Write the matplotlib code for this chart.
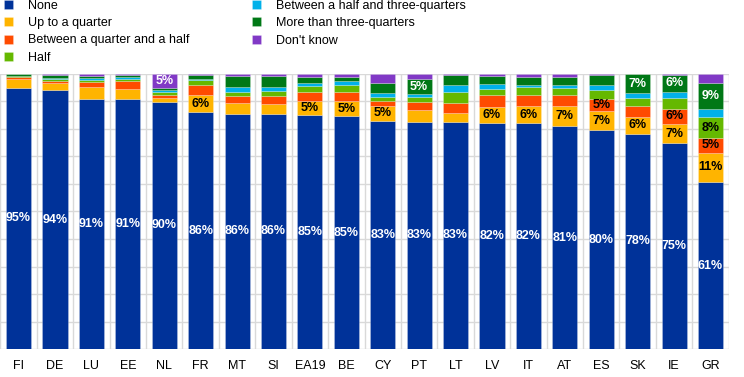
import numpy as np
import matplotlib
matplotlib.use('Agg')
import matplotlib.pyplot as plt

plt.rcParams['font.family'] = ['Liberation Sans', 'DejaVu Sans']

countries = ['FI', 'DE', 'LU', 'EE', 'NL', 'FR', 'MT', 'SI', 'EA19', 'BE',
             'CY', 'PT', 'LT', 'LV', 'IT', 'AT', 'ES', 'SK', 'IE', 'GR']

none = [95.0, 94.0, 91.0, 90.9, 89.9, 86.0, 85.6, 85.6, 85.2, 84.7,
        83.0, 82.7, 82.6, 82.3, 82.1, 81.1, 79.6, 78.2, 74.8, 60.6]
up_to_quarter = [3.0, 2.8, 4.2, 3.5, 1.5, 6.2, 4.0, 3.3, 5.1, 5.4,
                 5.4, 4.1, 3.3, 5.8, 6.1, 7.3, 6.8, 6.3, 6.9, 10.8]
quarter_half = [0.7, 0.7, 1.8, 2.9, 1.0, 3.6, 2.5, 3.0, 3.0, 3.4,
                1.8, 2.9, 3.4, 4.2, 4.2, 4.0, 4.6, 4.0, 5.7, 5.2]
half = [0.4, 0.7, 0.7, 0.7, 1.0, 1.8, 1.5, 1.8, 2.2, 2.3,
        1.3, 1.9, 4.0, 2.2, 2.7, 2.4, 3.0, 2.7, 3.8, 7.6]
half_three_q = [0.3, 0.3, 0.7, 1.0, 0.6, 0.7, 1.6, 1.6, 1.2, 1.6,
                1.5, 1.2, 2.7, 1.7, 1.0, 1.2, 1.8, 2.0, 2.3, 3.2]
more_three_q = [0.4, 1.1, 1.0, 0.7, 0.9, 1.2, 4.1, 4.1, 2.2, 1.6,
                3.8, 5.2, 3.6, 3.0, 2.8, 3.0, 3.8, 6.6, 6.2, 9.2]
dont_know = [0.2, 0.4, 0.6, 0.3, 5.1, 0.5, 0.7, 0.6, 1.1, 1.0,
             3.2, 2.0, 0.4, 0.8, 1.1, 1.0, 0.4, 0.2, 0.3, 3.4]

series = [
    ('None', none, '#003299', 'white'),
    ('Up to a quarter', up_to_quarter, '#FFB400', 'black'),
    ('Between a quarter and a half', quarter_half, '#FF4B00', 'black'),
    ('Half', half, '#65B800', 'black'),
    ('Between a half and three-quarters', half_three_q, '#00B1EA', 'black'),
    ('More than three-quarters', more_three_q, '#007816', 'white'),
    ("Don't know", dont_know, '#8139C6', 'white'),
]

fig = plt.figure(figsize=(7.44, 3.77), dpi=100)
ax = fig.add_axes([0.0005, 0.074, 0.979, 0.730])

x = np.arange(len(countries))
bottom = np.zeros(len(countries))
handles = []
for name, vals, color, tcol in series:
    vals = np.array(vals)
    b = ax.bar(x, vals, 0.69, bottom=bottom, color=color, label=name,
               edgecolor=(1, 1, 1, 0.3), linewidth=0.5, zorder=3)
    handles.append(b)
    for xi, v, bt in zip(x, vals, bottom):
        if round(v) >= 5:
            ax.text(xi, bt + v / 2, '%d%%' % round(v), ha='center',
                    va='center', color=tcol, fontsize=9, fontweight='bold',
                    zorder=4)
    bottom += vals

ax.set_xlim(-0.5, len(countries) - 0.5)
ax.set_ylim(0, 100)
ax.set_yticks(np.arange(0, 101, 10))
ax.set_xticks(np.arange(-0.5, len(countries), 1), minor=True)
ax.set_xticks(x)
ax.set_xticklabels(countries, fontsize=9)
ax.tick_params(axis='x', which='both', length=0, pad=8)
ax.tick_params(axis='y', length=0, labelleft=False)
ax.grid(axis='y', which='major', color='#d9d9d9', linewidth=1, zorder=0)
ax.grid(axis='x', which='minor', color='#d9d9d9', linewidth=1, zorder=0)
ax.grid(axis='x', which='major', visible=False)
for s in ax.spines.values():
    s.set_visible(False)

fig.legend(handles=handles, loc='upper left', bbox_to_anchor=(0.005, 1.0),
           ncol=2, frameon=False, fontsize=9, handlelength=0.75,
           handleheight=0.75, handletextpad=1.2, labelspacing=0.42,
           columnspacing=5.0, borderaxespad=0.0, borderpad=0.0)

fig.savefig('out.png', dpi=100)
